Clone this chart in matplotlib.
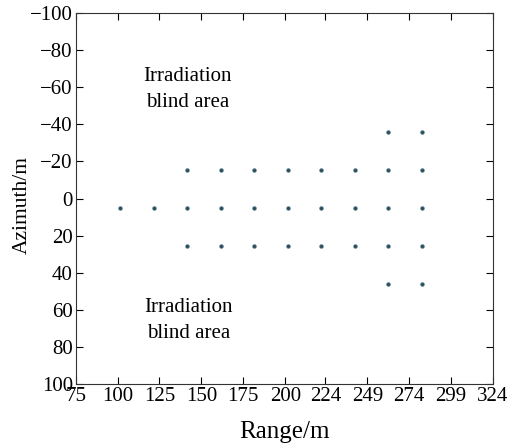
import matplotlib.pyplot as plt
import numpy as np

plt.rcParams['font.family'] = ['Liberation Serif', 'DejaVu Serif']

# point targets (range, azimuth)
row_mid_x = [101.5, 121.5, 141.5, 161.5, 181.5, 201.5, 221.5, 241.5, 261.5, 281.5]
row_mid_y = 5.1
row_inner_x = [141.5, 161.5, 181.5, 201.5, 221.5, 241.5, 261.5, 281.5]
row_inner_y = [-15.4, 25.6]
row_outer_x = [261.5, 281.5]
row_outer_y = [-35.9, 46.1]

xticks = np.round(np.linspace(75, 324, 11)).astype(int)
yticks = [-100, -80, -60, -40, -20, 0, 20, 40, 60, 80, 100]

fig = plt.figure(figsize=(5.13, 4.43), dpi=100)
ax = fig.add_axes([75.7 / 513, 1 - 384 / 443, (493 - 75.7) / 513, (384 - 13) / 443])

xs, ys = [], []
for x in row_mid_x:
    xs.append(x); ys.append(row_mid_y)
for y in row_inner_y:
    for x in row_inner_x:
        xs.append(x); ys.append(y)
for y in row_outer_y:
    for x in row_outer_x:
        xs.append(x); ys.append(y)

ax.plot(xs, ys, 'o', ms=2.8, color='#2e4d5c', mec='#6a8f9f', mew=0.4, ls='none')

ax.text(142, -58.5, 'Irradiation\nblind area', ha='center', va='center', fontsize=15, linespacing=1.5)
ax.text(142.6, 65.5, 'Irradiation\nblind area', ha='center', va='center', fontsize=15, linespacing=1.5)

ax.set_xlim(75, 324)
ax.set_ylim(100, -100)
ax.set_xticks(xticks)
ax.set_yticks(yticks)
ax.set_yticklabels(['\u2212' + str(-t) if t < 0 else str(t) for t in yticks])
ax.tick_params(direction='in', top=True, right=True, length=5, width=0.8, labelsize=15, pad=2)
for s in ax.spines.values():
    s.set_color('#333333')
    s.set_linewidth(0.8)

ax.set_xlabel('Range/m', fontsize=18)
ax.set_ylabel('Azimuth/m', fontsize=15.5)
ax.xaxis.set_label_coords(0.5, -0.1)
ax.yaxis.set_label_coords(-0.105, 0.483)

fig.savefig('out.png', dpi=100)
